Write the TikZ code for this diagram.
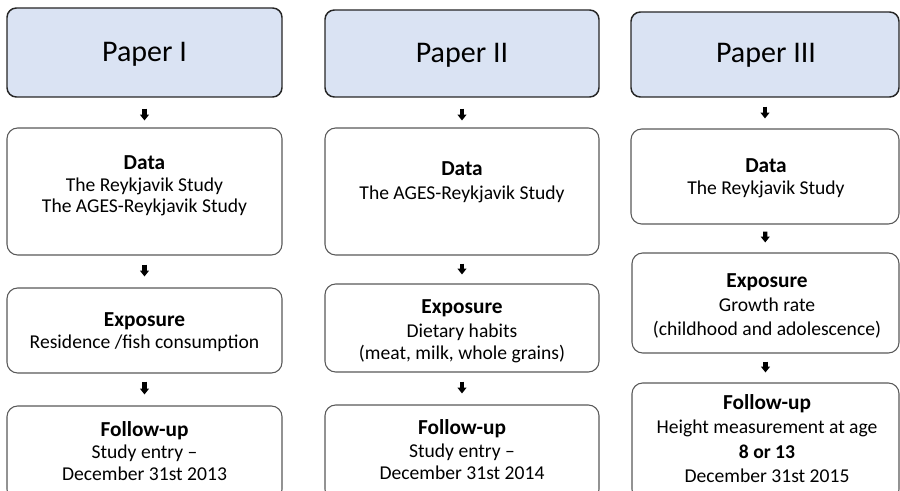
\documentclass[tikz,border=0pt]{standalone}
\usepackage{fontspec}
\setmainfont{Carlito}
\usetikzlibrary{arrows.meta,fit}
\definecolor{paperfill}{HTML}{DAE3F3}
\definecolor{boxline}{HTML}{595959}
\newcommand\boxhead[1]{{\fontsize{16}{16.5}\selectfont\bfseries #1}}
\begin{document}
\begin{tikzpicture}[x=0.75pt,y=-0.75pt,
  paper/.style={draw=black!85, line width=1.1pt, fill=paperfill, rounded corners=7pt, inner sep=0pt},
  box/.style={draw=boxline, line width=0.8pt, fill=white, rounded corners=8pt, inner sep=0pt},
  ptext/.style={font=\fontsize{22.5}{27}\selectfont, anchor=base, inner sep=0pt},
  btext/.style={font=\fontsize{14.7}{16.2}\selectfont, align=center, inner sep=0pt},
  blockarr/.style={line width=3.3pt, -{Triangle[width=6.6pt,length=4.4pt]}, black}
]
\useasboundingbox (0,0) rectangle (900,491);

% ---------- Column 1
\node[paper, fit={(7,8) (282,97)}] (p1) {};
\node[box, fit={(7,128) (282,255)}] (d1) {};
\node[box, fit={(7,288) (282,373)}] (e1) {};
\node[box, fit={(7,406) (282,500)}] (f1) {};
\node[ptext] (tp1) at (144.5,61.5) {Paper I};
\node[btext] (td1) at (144.5,186) {\boxhead{Data}\\The Reykjavik Study\\The AGES-Reykjavik Study};
\node[btext] (te1) at (144.5,332) {\boxhead{Exposure}\\Residence /fish consumption};
\node[btext] (tf1) at (144.5,451) {\boxhead{Follow-up}\\Study entry --\\December 31st 2013};
\draw[blockarr, shorten <=8.25pt, shorten >=5.25pt] (p1) -- (d1);
\draw[blockarr, shorten <=6.75pt, shorten >=8.25pt] (d1) -- (e1);
\draw[blockarr, shorten <=6pt, shorten >=8.25pt] (e1) -- (f1);

% ---------- Column 2
\node[paper, fit={(325,10) (599,97)}] (p2) {};
\node[box, fit={(325,128) (599,255)}] (d2) {};
\node[box, fit={(325,284) (599,372)}] (e2) {};
\node[box, fit={(325,405) (599,500)}] (f2) {};
\node[ptext] (tp2) at (462,62.5) {Paper II};
\node[btext] (td2) at (462,182) {\boxhead{Data}\\[2pt]The AGES-Reykjavik Study};
\node[btext] (te2) at (462,331) {\boxhead{Exposure}\\[2pt]Dietary habits\\(meat, milk, whole grains)};
\node[btext] (tf2) at (462,449.5) {\boxhead{Follow-up}\\[1.5pt]Study entry --\\December 31st 2014};
\draw[blockarr, shorten <=8.25pt, shorten >=5.25pt] (p2) -- (d2);
\draw[blockarr, shorten <=6pt, shorten >=6.75pt] (d2) -- (e2);
\draw[blockarr, shorten <=6.75pt, shorten >=8.25pt] (e2) -- (f2);

% ---------- Column 3
\node[paper, fit={(631,12) (899,97)}] (p3) {};
\node[box, fit={(631,129) (899,224)}] (d3) {};
\node[box, fit={(632,253) (899,353)}] (e3) {};
\node[box, fit={(632,383) (899,500)}] (f3) {};
\node[ptext] (tp3) at (766,63) {Paper III};
\node[btext] (td3) at (766,178.5) {\boxhead{Data}\\The Reykjavik Study};
\node[btext, font=\fontsize{14.7}{18}\selectfont] (te3) at (767,306) {\boxhead{Exposure}\\Growth rate\\(childhood and adolescence)};
\node[btext, font=\fontsize{14.7}{18.3}\selectfont] (tf3) at (767,438.5) {\boxhead{Follow-up}\\Height measurement at age\\\textbf{8 or 13}\\December 31st 2015};
\draw[blockarr, shorten <=6.75pt, shorten >=7.5pt] (p3) -- (d3);
\draw[blockarr, shorten <=5.25pt, shorten >=7.5pt] (d3) -- (e3);
\draw[blockarr, shorten <=6pt, shorten >=7.5pt] (e3) -- (f3);
\end{tikzpicture}
\end{document}
